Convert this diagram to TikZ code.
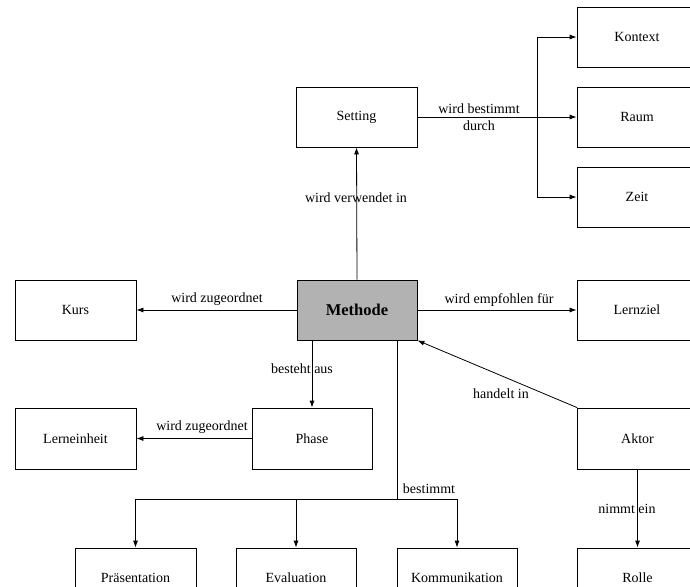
\documentclass[tikz,border=0pt]{standalone}
\usepackage{fontspec}
\setmainfont{Liberation Serif}
\usetikzlibrary{arrows.meta}
\begin{document}
\begin{tikzpicture}[x=1pt,y=-1pt,
  box/.style={draw=black,line width=0.8pt,rectangle,inner sep=0pt,
    minimum width=120pt,minimum height=60pt,font=\fontsize{14}{17}\selectfont},
  mainbox/.style={box,fill=black!30,font=\fontsize{16.5}{19}\selectfont\bfseries},
  arr/.style={line width=0.8pt,-{Latex[length=7pt,width=5pt]}},
  con/.style={line width=0.8pt},
  lbl/.style={inner sep=0pt,align=center,font=\fontsize{14}{17}\selectfont}]
\clip (0,0) rectangle (690,586);
\fill[white] (0,0) rectangle (690,586);

% boxes
\node[box] (kontext) at (637,37) {Kontext};
\node[box] (raum) at (637,117) {Raum};
\node[box] (zeit) at (637,197) {Zeit};
\node[box,minimum width=121pt] (setting) at (356.5,117) {Setting};
\node[box,minimum width=121pt] (kurs) at (75.5,310) {Kurs};
\node[mainbox] (methode) at (357,310) {Methode};
\node[box] (lernziel) at (637,310) {Lernziel};
\node[box,minimum width=121pt,minimum height=61pt] (einheit) at (75.5,438.5) {Lerneinheit};
\node[box,minimum height=61pt] (phase) at (312,438.5) {Phase};
\node[box,minimum height=61pt] (aktor) at (637.5,438.5) {Aktor};
\node[box,minimum width=121pt] (praes) at (135.5,578) {Präsentation};
\node[box] (eval) at (296,578) {Evaluation};
\node[box] (komm) at (457,578) {Kommunikation};
\node[box] (rolle) at (637.5,578) {Rolle};

% Setting branches to Kontext, Raum, Zeit
\coordinate (sj) at (537,117);
\draw[con] (setting.east) -- (sj);
\draw[arr] (sj) |- (kontext.west);
\draw[arr] (sj) -- (raum.west);
\draw[arr] (sj) |- (zeit.west);
\node[lbl] (l1) at (479,117) {wird bestimmt\\durch};

% Methode connectors
\draw[arr] (methode.north) -- (setting.south);
\node[lbl] (l2) at (356,198) {wird verwendet in};
\draw[arr] (methode.west) -- (kurs.east);
\node[lbl] (l3) at (217,299) {wird zugeordnet};
\draw[arr] (methode.east) -- (lernziel.west);
\node[lbl] (l4) at (499,300) {wird empfohlen für};
\draw[arr] (methode.south -| phase.north) -- (phase.north);
\node[lbl] (l5) at (302,369) {besteht aus};
\draw[arr] (phase.west) -- (einheit.east);
\node[lbl] (l6) at (202,427) {wird zugeordnet};
\draw[arr] (aktor.north west) -- (methode.south east);
\node[lbl] (l7) at (501,394) {handelt in};
\draw[arr] (aktor.south) -- (rolle.north);
\node[lbl] (l8) at (627,509) {nimmt ein};

% Methode determines the three bottom boxes
\coordinate (mb) at ([xshift=40pt]methode.south);
\coordinate (bj) at (397,499);
\draw[con] (mb) -- (bj);
\draw[con] (praes.north |- bj) -- (komm.north |- bj);
\draw[arr] (praes.north |- bj) -- (praes.north);
\draw[arr] (eval.north |- bj) -- (eval.north);
\draw[arr] (komm.north |- bj) -- (komm.north);
\node[lbl] (l9) at (429,489) {bestimmt};
\end{tikzpicture}
\end{document}
